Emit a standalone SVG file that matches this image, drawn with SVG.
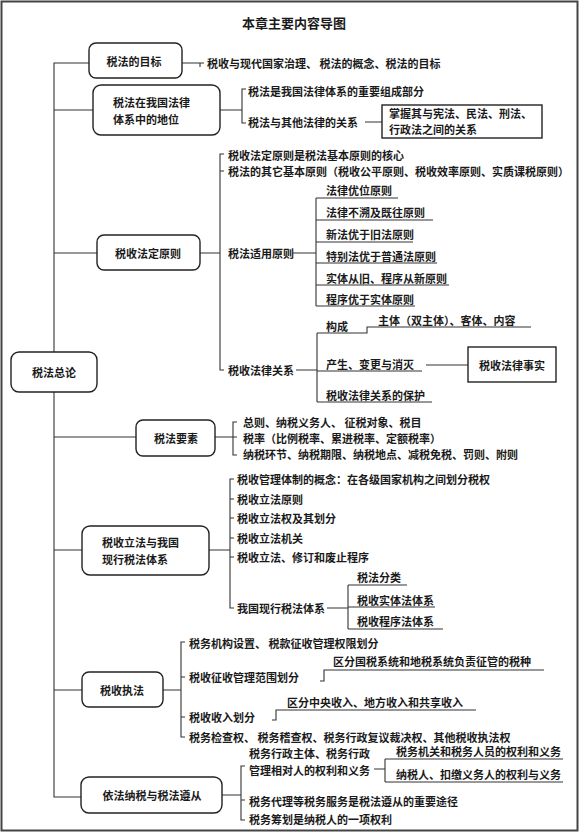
<svg xmlns="http://www.w3.org/2000/svg" width="580" height="833" viewBox="0 0 580 833">
<style>
.t{font-family:"Noto Sans CJK SC","Noto Sans CJK JP",sans-serif;font-size:11px;font-weight:bold;fill:#1a1a1a;dominant-baseline:central}
.m{text-anchor:middle}
.title{font-size:13px}
.box{fill:#fff;stroke:#222;stroke-width:1.4}
.sq{fill:#fff;stroke:#222;stroke-width:1.4}
.ln{fill:none;stroke:#333;stroke-width:1.1}
</style>
<rect x="1.5" y="1.5" width="576" height="829" fill="#fff" stroke="#444" stroke-width="2"/>
<text class="t m title" x="294" y="22">本章主要内容导图</text>

<g id="connectors">
<path class="ln" d="M89 63 H54 V797 H81 M54 110 H93 M54 253 H97 M54 437 H136 M54 550 H82 M54 690 H82"/>
<path class="ln" d="M182 63 H200 V67 M200 63 H204"/>
<path class="ln" d="M220 110 H242 M246 89 H242 V123 H246 M365 122 H382"/>
<path class="ln" d="M200 253 H220 M224 154 H220 V370 H224 M220 171 H224 M293 253 H316 M316 198 V306"/>
<path class="ln" d="M316 198 H398 M316 220 H433 M316 242 H413 M316 263 H437 M316 285 H449 M316 306 H415"/>
<path class="ln" d="M296 370 H317 M317 333 V402 M317 333 H367 V327 H531 M317 371 H422 M426 365 H468 M317 402 H432"/>
<path class="ln" d="M215 437 H233 M237 422 H233 V455 H237 M233 437 H237"/>
<path class="ln" d="M209 550 H230 M234 479 H230 V608 H234 M230 499 H234 M230 518 H234 M230 538 H234 M230 557 H234 M327 608 H348 M348 585 V629 M348 585 H407 M348 607 H435 M348 629 H443"/>
<path class="ln" d="M163 690 H181 M185 642 H181 V737 H185 M181 677 H185 M181 717 H185 M320 681 H324 V670 H544 M272 720 H276 V710 H476"/>
<path class="ln" d="M222 795 H241 M245 766 H241 V820 H245 M241 800 H245 M374 769 H385 M385 759 V782 M385 759 H563 M385 782 H563"/>
</g>

<g id="n-root"><rect class="box" x="11" y="352" width="86" height="40" rx="8"/><text class="t m" x="54" y="372">税法总论</text></g>

<g id="n-goal"><rect class="box" x="89" y="43" width="93" height="35" rx="7"/><text class="t m" x="134" y="61">税法的目标</text>
<text class="t" x="207" y="63">税收与现代国家治理、 税法的概念、税法的目标</text></g>

<g id="n-position"><rect class="box" x="93" y="85" width="127" height="50" rx="8"/>
<text class="t" x="113" y="102">税法在我国法律</text><text class="t" x="113" y="119">体系中的地位</text>
<text class="t" x="248" y="91">税法是我国法律体系的重要组成部分</text>
<text class="t" x="248" y="122">税法与其他法律的关系</text>
<rect class="sq" x="382" y="105" width="160" height="33"/>
<text class="t" x="389" y="113">掌握其与宪法、民法、刑法、</text><text class="t" x="389" y="129">行政法之间的关系</text></g>

<g id="n-principle"><rect class="box" x="97" y="235" width="103" height="35" rx="7"/><text class="t m" x="148" y="253">税收法定原则</text>
<text class="t" x="228" y="155">税收法定原则是税法基本原则的核心</text>
<text class="t" x="228" y="171">税法的其它基本原则（税收公平原则、税收效率原则、实质课税原则）</text>
<text class="t" x="228" y="253">税法适用原则</text>
<text class="t" x="326" y="190">法律优位原则</text>
<text class="t" x="326" y="212">法律不溯及既往原则</text>
<text class="t" x="326" y="234">新法优于旧法原则</text>
<text class="t" x="326" y="256">特别法优于普通法原则</text>
<text class="t" x="326" y="278">实体从旧、程序从新原则</text>
<text class="t" x="326" y="299">程序优于实体原则</text>
<text class="t" x="228" y="370">税收法律关系</text>
<text class="t" x="326" y="326">构成</text>
<text class="t" x="378" y="320">主体（双主体）、客体、内容</text>
<text class="t" x="326" y="364">产生、变更与消灭</text>
<rect class="sq" x="468" y="347" width="88" height="35"/>
<text class="t m" x="512" y="365">税收法律事实</text>
<text class="t" x="326" y="395">税收法律关系的保护</text></g>

<g id="n-elements"><rect class="box" x="136" y="420" width="79" height="36" rx="7"/><text class="t m" x="176" y="438">税法要素</text>
<text class="t" x="243" y="422">总则、纳税义务人、 征税对象、税目</text>
<text class="t" x="243" y="438">税率（比例税率、累进税率、定额税率）</text>
<text class="t" x="243" y="454">纳税环节、纳税期限、纳税地点、减税免税、罚则、附则</text></g>

<g id="n-legislation"><rect class="box" x="82" y="526" width="127" height="49" rx="8"/>
<text class="t" x="102" y="542">税收立法与我国</text><text class="t" x="102" y="559">现行税法体系</text>
<text class="t" x="237" y="479">税收管理体制的概念：在各级国家机构之间划分税权</text>
<text class="t" x="237" y="499">税收立法原则</text>
<text class="t" x="237" y="518">税收立法权及其划分</text>
<text class="t" x="237" y="538">税收立法机关</text>
<text class="t" x="237" y="557">税收立法、修订和废止程序</text>
<text class="t" x="237" y="608">我国现行税法体系</text>
<text class="t" x="357" y="577">税法分类</text>
<text class="t" x="357" y="600">税收实体法体系</text>
<text class="t" x="357" y="621">税收程序法体系</text></g>

<g id="n-enforcement"><rect class="box" x="82" y="672" width="81" height="35" rx="7"/><text class="t m" x="122" y="690">税收执法</text>
<text class="t" x="189" y="643">税务机构设置、 税款征收管理权限划分</text>
<text class="t" x="189" y="677">税收征收管理范围划分</text>
<text class="t" x="333" y="661">区分国税系统和地税系统负责征管的税种</text>
<text class="t" x="189" y="717">税收收入划分</text>
<text class="t" x="287" y="702">区分中央收入、地方收入和共享收入</text>
<text class="t" x="189" y="737">税务检查权、 税务稽查权、税务行政复议裁决权、其他税收执法权</text></g>

<g id="n-compliance"><rect class="box" x="81" y="777" width="141" height="36" rx="8"/><text class="t m" x="152" y="795">依法纳税与税法遵从</text>
<text class="t" x="249" y="753">税务行政主体、税务行政</text>
<text class="t" x="249" y="770">管理相对人的权利和义务</text>
<text class="t" x="396" y="751">税务机关和税务人员的权利和义务</text>
<text class="t" x="396" y="774">纳税人、扣缴义务人的权利与义务</text>
<text class="t" x="249" y="801">税务代理等税务服务是税法遵从的重要途径</text>
<text class="t" x="249" y="819">税务筹划是纳税人的一项权利</text></g>
</svg>
